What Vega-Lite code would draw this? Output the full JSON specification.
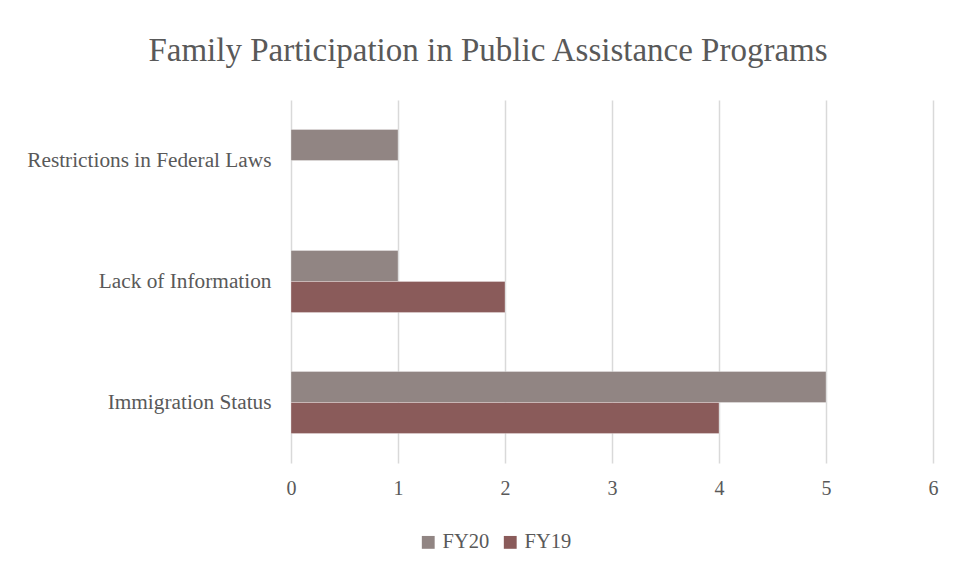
{
  "$schema": "https://vega.github.io/schema/vega-lite/v6.json",
  "width": 642,
  "height": 363,
  "autosize": {"type": "none"},
  "padding": {"left": 291, "top": 100, "right": 25, "bottom": 115},
  "background": "white",
  "title": {
    "text": "Family Participation in Public Assistance Programs",
    "font": "Liberation Serif",
    "fontSize": 33,
    "fontWeight": "normal",
    "color": "#595959",
    "anchor": "middle",
    "dx": -124,
    "offset": 32
  },
  "data": {
    "values": [
      {"category": "Restrictions in Federal Laws", "year": "FY20", "value": 1},
      {"category": "Lack of Information", "year": "FY20", "value": 1},
      {"category": "Lack of Information", "year": "FY19", "value": 2},
      {"category": "Immigration Status", "year": "FY20", "value": 5},
      {"category": "Immigration Status", "year": "FY19", "value": 4}
    ]
  },
  "mark": {"type": "bar", "stroke": "#ffffff", "strokeWidth": 0.5, "strokeOpacity": 0.6},
  "encoding": {
    "y": {
      "field": "category",
      "type": "nominal",
      "sort": ["Restrictions in Federal Laws", "Lack of Information", "Immigration Status"],
      "scale": {"paddingInner": 0.488, "paddingOuter": 0.244},
      "axis": {
        "title": null,
        "domain": false,
        "ticks": false,
        "labelPadding": 20,
        "labelLimit": 400,
        "labelFont": "Liberation Serif",
        "labelFontSize": 21.3,
        "labelColor": "#595959",
        "grid": false
      }
    },
    "yOffset": {
      "field": "year",
      "type": "nominal",
      "sort": ["FY20", "FY19"],
      "scale": {"paddingInner": 0, "paddingOuter": 0}
    },
    "x": {
      "field": "value",
      "type": "quantitative",
      "scale": {"domain": [0, 6]},
      "axis": {
        "title": null,
        "values": [0, 1, 2, 3, 4, 5, 6],
        "format": "d",
        "domain": false,
        "ticks": false,
        "labelPadding": 15,
        "labelFlush": false,
        "labelAlign": "center",
        "labelFont": "Liberation Serif",
        "labelFontSize": 20,
        "labelColor": "#595959",
        "grid": true,
        "gridColor": "#d9d9d9",
        "gridWidth": 1.5
      }
    },
    "color": {
      "field": "year",
      "type": "nominal",
      "sort": ["FY20", "FY19"],
      "scale": {"domain": ["FY20", "FY19"], "range": ["#918583", "#8A5B5A"]},
      "legend": {
        "title": null,
        "orient": "none",
        "direction": "horizontal",
        "legendX": 127,
        "legendY": 432,
        "symbolType": "square",
        "symbolSize": 165,
        "symbolStrokeWidth": 0,
        "labelFont": "Liberation Serif",
        "labelFontSize": 20.5,
        "labelColor": "#595959",
        "columnPadding": 10,
        "labelOffset": 4
      }
    }
  },
  "config": {
    "view": {"stroke": null}
  }
}
